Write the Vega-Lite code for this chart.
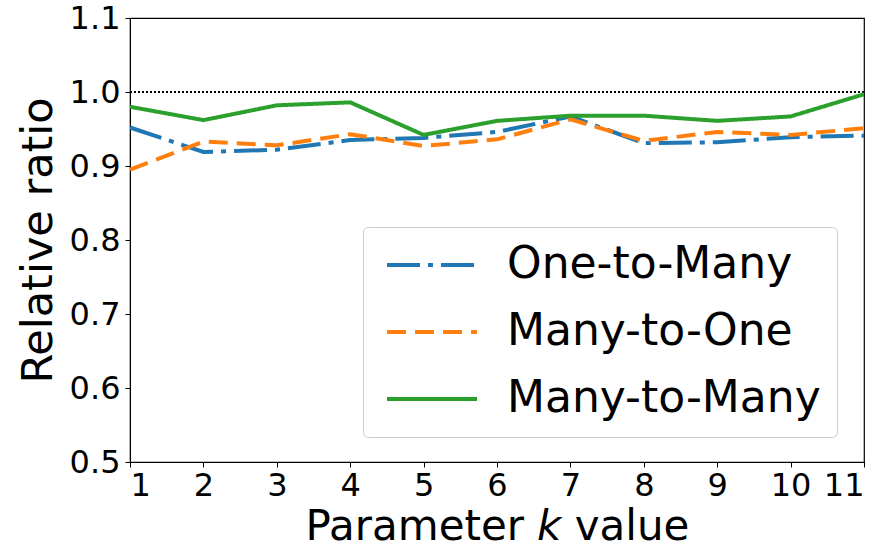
{
  "$schema": "https://vega.github.io/schema/vega-lite/v6.json",
  "autosize": "none",
  "width": 734,
  "height": 444,
  "padding": {"left": 130, "top": 18, "right": 25, "bottom": 87},
  "background": "white",
  "config": {
    "font": "DejaVu Sans",
    "view": {"stroke": "black", "strokeWidth": 1.2},
    "axis": {"grid": false, "domainColor": "black", "tickColor": "black", "labelColor": "black", "titleColor": "black", "labelFont": "DejaVu Sans", "titleFont": "DejaVu Sans", "titleFontWeight": "normal"}
  },
  "data": {
    "values": [
      {"k": 1, "series": "One-to-Many", "ratio": 0.952},
      {"k": 2, "series": "One-to-Many", "ratio": 0.919},
      {"k": 3, "series": "One-to-Many", "ratio": 0.922},
      {"k": 4, "series": "One-to-Many", "ratio": 0.935},
      {"k": 5, "series": "One-to-Many", "ratio": 0.938},
      {"k": 6, "series": "One-to-Many", "ratio": 0.946},
      {"k": 7, "series": "One-to-Many", "ratio": 0.967},
      {"k": 8, "series": "One-to-Many", "ratio": 0.931},
      {"k": 9, "series": "One-to-Many", "ratio": 0.932},
      {"k": 10, "series": "One-to-Many", "ratio": 0.939},
      {"k": 11, "series": "One-to-Many", "ratio": 0.941},
      {"k": 1, "series": "Many-to-One", "ratio": 0.895},
      {"k": 2, "series": "Many-to-One", "ratio": 0.933},
      {"k": 3, "series": "Many-to-One", "ratio": 0.928},
      {"k": 4, "series": "Many-to-One", "ratio": 0.943},
      {"k": 5, "series": "Many-to-One", "ratio": 0.927},
      {"k": 6, "series": "Many-to-One", "ratio": 0.936},
      {"k": 7, "series": "Many-to-One", "ratio": 0.963},
      {"k": 8, "series": "Many-to-One", "ratio": 0.934},
      {"k": 9, "series": "Many-to-One", "ratio": 0.946},
      {"k": 10, "series": "Many-to-One", "ratio": 0.942},
      {"k": 11, "series": "Many-to-One", "ratio": 0.951},
      {"k": 1, "series": "Many-to-Many", "ratio": 0.980},
      {"k": 2, "series": "Many-to-Many", "ratio": 0.962},
      {"k": 3, "series": "Many-to-Many", "ratio": 0.982},
      {"k": 4, "series": "Many-to-Many", "ratio": 0.986},
      {"k": 5, "series": "Many-to-Many", "ratio": 0.942},
      {"k": 6, "series": "Many-to-Many", "ratio": 0.961},
      {"k": 7, "series": "Many-to-Many", "ratio": 0.968},
      {"k": 8, "series": "Many-to-Many", "ratio": 0.968},
      {"k": 9, "series": "Many-to-Many", "ratio": 0.961},
      {"k": 10, "series": "Many-to-Many", "ratio": 0.967},
      {"k": 11, "series": "Many-to-Many", "ratio": 0.997}
    ]
  },
  "layer": [
    {
      "mark": {"type": "rule", "color": "black", "strokeWidth": 1, "strokeDash": [1.5, 2.5]},
      "encoding": {"y": {"datum": 1.0, "type": "quantitative", "scale": {"domain": [0.5, 1.1], "nice": false}}}
    },
    {
      "mark": {"type": "line", "strokeWidth": 4, "clip": true},
      "encoding": {
        "x": {
          "field": "k", "type": "quantitative",
          "scale": {"domain": [1, 11], "nice": false},
          "axis": {"values": [1,2,3,4,5,6,7,8,9,10,11], "tickSize": 5, "labelPadding": 3, "labelFontSize": 32, "title": "Parameter 𝘬 value", "titleFontSize": 42, "titlePadding": 5, "format": "d"}
        },
        "y": {
          "field": "ratio", "type": "quantitative",
          "scale": {"domain": [0.5, 1.1], "nice": false, "zero": false},
          "axis": {"values": [0.5,0.6,0.7,0.8,0.9,1.0,1.1], "format": ".1f", "tickSize": 5, "labelPadding": 5, "labelFontSize": 32, "title": "Relative ratio", "titleFontSize": 43, "titlePadding": 9}
        },
        "color": {
          "field": "series", "type": "nominal",
          "scale": {"domain": ["One-to-Many", "Many-to-One", "Many-to-Many"], "range": ["#1f77b4", "#ff7f0e", "#2ca02c"]},
          "legend": {
            "title": null, "orient": "none", "legendX": 233, "legendY": 209,
            "labelFontSize": 44, "labelFont": "DejaVu Sans", "labelColor": "black", "labelLimit": 0,
            "symbolType": "M-3,0H3", "symbolSize": 900, "symbolStrokeWidth": 4,
            "symbolOffset": 31, "labelOffset": 53, "rowPadding": 23, "padding": 16,
            "strokeColor": "#cccccc", "fillColor": "white", "cornerRadius": 5
          }
        },
        "strokeDash": {
          "field": "series", "type": "nominal",
          "scale": {"domain": ["One-to-Many", "Many-to-One", "Many-to-Many"], "range": [[33, 8, 5, 8], [19, 9], [1, 0]]},
          "legend": null
        }
      }
    }
  ]
}
